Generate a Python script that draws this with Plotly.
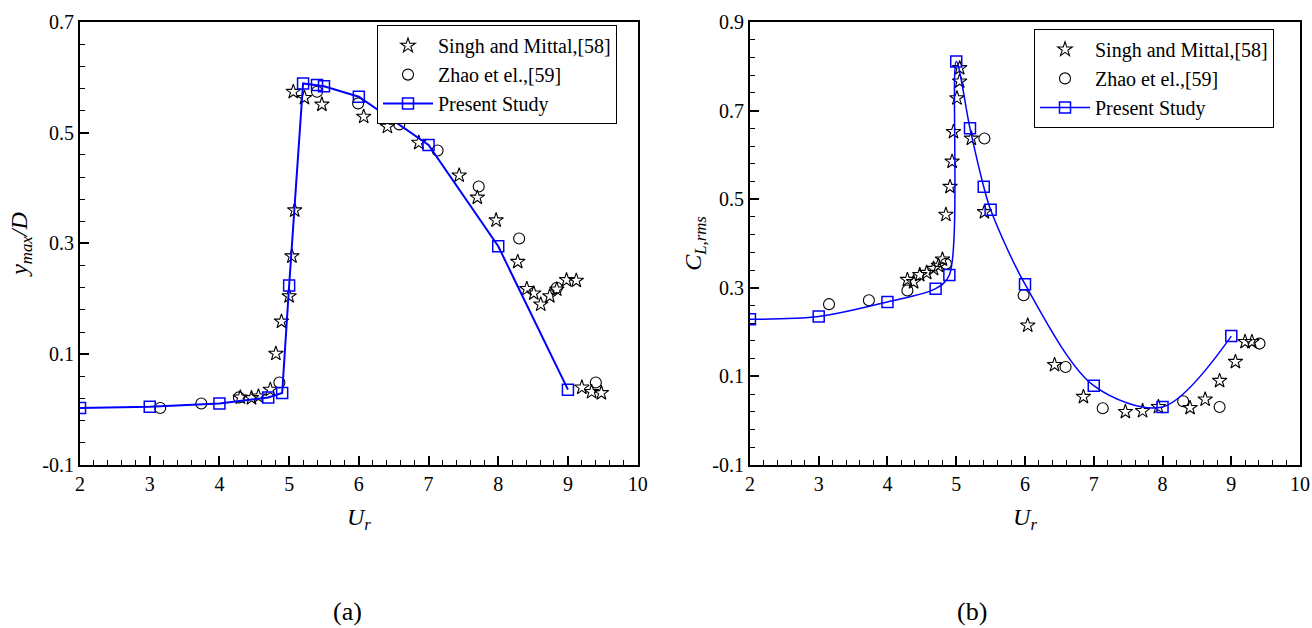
import plotly.graph_objects as go

# ---------------- data: panel (a) y_max/D ----------------
a_present_x = [2.0, 3.0, 4.0, 4.7, 4.9, 5.0, 5.2, 5.4, 5.5, 6.0, 7.0, 8.0, 9.0]
a_present_y = [0.003, 0.005, 0.011, 0.022, 0.030, 0.224, 0.589, 0.586, 0.584, 0.565, 0.478, 0.295, 0.036]

a_singh_x = [4.30, 4.46, 4.56, 4.73, 4.81, 4.89, 5.00, 5.04, 5.08, 5.06, 5.22, 5.47, 6.07, 6.41,
             6.86, 7.44, 7.70, 7.97, 8.28, 8.41, 8.51, 8.61, 8.74, 8.84, 8.98, 9.12, 9.20, 9.34, 9.48]
a_singh_y = [0.022, 0.021, 0.024, 0.036, 0.101, 0.159, 0.205, 0.277, 0.360, 0.574, 0.563, 0.551, 0.529, 0.511,
             0.482, 0.423, 0.383, 0.342, 0.267, 0.218, 0.210, 0.190, 0.205, 0.217, 0.234, 0.233, 0.040, 0.032, 0.030]

a_zhao_x = [3.15, 3.74, 4.28, 4.86, 5.40, 5.99, 6.58, 7.13, 7.72, 8.30, 8.84, 9.40]
a_zhao_y = [0.003, 0.011, 0.022, 0.049, 0.574, 0.553, 0.515, 0.468, 0.403, 0.309, 0.220, 0.049]

# ---------------- data: panel (b) C_L,rms ----------------
b_present_x = [2.0, 3.0, 4.0, 4.7, 4.9, 5.0, 5.2, 5.4, 5.5, 6.0, 7.0, 8.0, 9.0]
b_present_y = [0.229, 0.235, 0.268, 0.298, 0.329, 0.811, 0.660, 0.528, 0.476, 0.308, 0.079, 0.031, 0.191]

b_singh_x = [4.29, 4.38, 4.47, 4.57, 4.67, 4.74, 4.80, 4.85, 4.91, 4.94, 4.96, 5.01, 5.05, 5.05, 5.22,
             5.41, 6.04, 6.43, 6.85, 7.46, 7.71, 7.94, 8.40, 8.62, 8.83, 9.06, 9.20, 9.30]
b_singh_y = [0.318, 0.313, 0.329, 0.334, 0.343, 0.350, 0.364, 0.465, 0.528, 0.585, 0.652, 0.728, 0.766, 0.796, 0.637,
             0.471, 0.215, 0.126, 0.054, 0.020, 0.022, 0.031, 0.029, 0.048, 0.090, 0.133, 0.178, 0.178]

b_zhao_x = [3.15, 3.73, 4.29, 4.85, 5.41, 5.98, 6.59, 7.13, 8.30, 8.83, 9.41]
b_zhao_y = [0.263, 0.272, 0.294, 0.354, 0.637, 0.283, 0.121, 0.028, 0.044, 0.031, 0.174]

legend_names = ["Singh and Mittal,[58]", "Zhao et el.,[59]", "Present Study"]
x_ticks = [2, 3, 4, 5, 6, 7, 8, 9, 10]
a_y_ticks = [-0.1, 0.1, 0.3, 0.5, 0.7]
a_y_labels = ["-0.1", "0.1", "0.3", "0.5", "0.7"]
b_y_ticks = [-0.1, 0.1, 0.3, 0.5, 0.7, 0.9]
b_y_labels = ["-0.1", "0.1", "0.3", "0.5", "0.7", "0.9"]

FONT = "Liberation Serif"
BLUE = "#0000ff"

fig = go.Figure()

def add_panel(xa, ya, legend, sx, sy, zx, zy, px, py, shape, lw):
    fig.add_trace(go.Scatter(x=sx, y=sy, mode="markers", name=legend_names[0],
                             xaxis=xa, yaxis=ya, legend=legend,
                             marker=dict(symbol="star-open", size=11, color="black",
                                         line=dict(width=1.1, color="black"))))
    fig.add_trace(go.Scatter(x=zx, y=zy, mode="markers", name=legend_names[1],
                             xaxis=xa, yaxis=ya, legend=legend,
                             marker=dict(symbol="circle-open", size=11, color="black",
                                         line=dict(width=1.1, color="black"))))
    fig.add_trace(go.Scatter(x=px, y=py, mode="lines+markers", name=legend_names[2],
                             xaxis=xa, yaxis=ya, legend=legend,
                             line=dict(color=BLUE, width=lw, shape=shape, smoothing=0.9),
                             marker=dict(symbol="square-open", size=11, color=BLUE,
                                         line=dict(width=1.5, color=BLUE))))

add_panel("x", "y", "legend", a_singh_x, a_singh_y, a_zhao_x, a_zhao_y,
          a_present_x, a_present_y, "linear", 2)
add_panel("x2", "y2", "legend2", b_singh_x, b_singh_y, b_zhao_x, b_zhao_y,
          b_present_x, b_present_y, "spline", 1.5)

axis_common = dict(showgrid=False, zeroline=False, showline=True, linecolor="black",
                   linewidth=2, mirror=True, ticks="inside", ticklen=9, tickwidth=1.5,
                   tickcolor="black", automargin=False,
                   tickfont=dict(family=FONT, size=20, color="black"))

TITLE_FONT = dict(family=FONT, size=24, color="black")
ydom = [0.2596, 0.965]
fig.update_layout(
    width=1312, height=628,
    margin=dict(l=0, r=0, t=0, b=0),
    paper_bgcolor="white", plot_bgcolor="white",
    font=dict(family=FONT, color="black"),
    xaxis=dict(domain=[0.061, 0.486], range=[2, 10], tickvals=x_ticks,
               minor=dict(ticks="inside", ticklen=5, dtick=0.2, tick0=2, tickcolor="black", tickwidth=1.2),
               title=dict(text="<i>U<sub>r</sub></i>", font=TITLE_FONT, standoff=14),
               anchor="y", **axis_common),
    yaxis=dict(domain=ydom, range=[-0.1, 0.7], tickvals=a_y_ticks, ticktext=a_y_labels,
               minor=dict(ticks="inside", ticklen=5, dtick=0.04, tick0=-0.1, tickcolor="black", tickwidth=1.2),
               title=dict(text="<i>y<sub>max</sub>/D</i>", font=TITLE_FONT, standoff=8),
               anchor="x", **axis_common),
    xaxis2=dict(domain=[0.5716, 0.9909], range=[2, 10], tickvals=x_ticks,
                minor=dict(ticks="inside", ticklen=5, dtick=0.2, tick0=2, tickcolor="black", tickwidth=1.2),
                title=dict(text="<i>U<sub>r</sub></i>", font=TITLE_FONT, standoff=14),
                anchor="y2", **axis_common),
    yaxis2=dict(domain=ydom, range=[-0.1, 0.9], tickvals=b_y_ticks, ticktext=b_y_labels,
                minor=dict(ticks="inside", ticklen=5, dtick=0.04, tick0=-0.1, tickcolor="black", tickwidth=1.2),
                title=dict(text="<i>C<sub>L,rms</sub></i>", font=TITLE_FONT, standoff=4),
                anchor="x2", **axis_common),
    legend=dict(x=377 / 1312, y=0.960, xanchor="left", yanchor="top", bgcolor="white",
                bordercolor="black", borderwidth=1, itemwidth=50,
                font=dict(family=FONT, size=20, color="black"), tracegroupgap=0),
    legend2=dict(x=1034 / 1312, y=0.954, xanchor="left", yanchor="top", bgcolor="white",
                 bordercolor="black", borderwidth=1, itemwidth=50,
                 font=dict(family=FONT, size=20, color="black"), tracegroupgap=0),
    annotations=[
        dict(text="(a)", x=331 / 1312, y=0.0, xref="paper", yref="paper", yanchor="bottom",
             showarrow=False, font=dict(family=FONT, size=26, color="black")),
        dict(text="(b)", x=989 / 1312, y=0.0, xref="paper", yref="paper", yanchor="bottom",
             showarrow=False, font=dict(family=FONT, size=26, color="black")),
    ],
)

fig.write_html("out.html")
